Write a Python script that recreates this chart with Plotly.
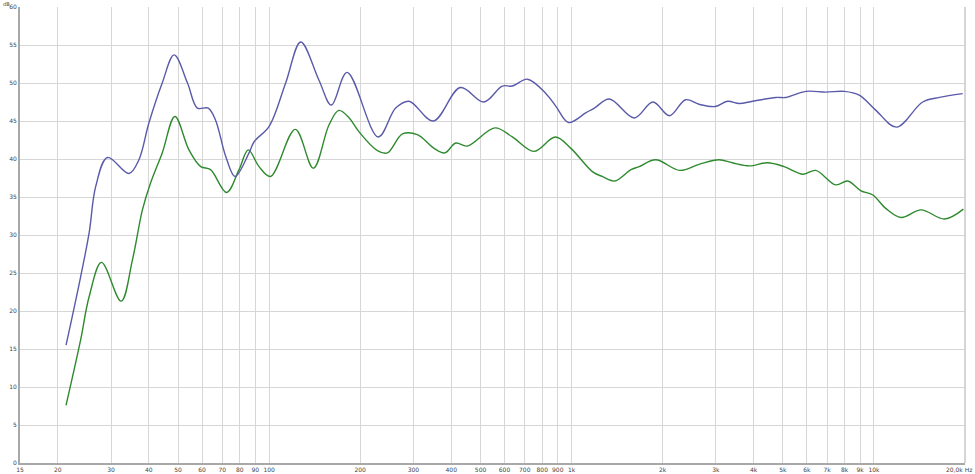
import math
import plotly.graph_objects as go

# Blue trace (upper)
blue_freq = [21.3, 23.8, 25.4, 26.7, 29.2, 34.4, 37.1, 40.0, 44.3, 48.5, 53.7, 57.9, 62.9, 66.5,
             71.9, 77.1, 85.8, 89.3, 100, 113.4, 127.2, 146, 160.6, 181, 229.5, 262, 290, 349, 429,
             513, 590, 637, 715, 823, 889, 977, 1117, 1190, 1334, 1612, 1858, 2108, 2383, 2640,
             2983, 3279, 3585, 3970, 4740, 5115, 5955, 6930, 7980, 8940, 10150, 11880, 14490,
             16470, 19650]
blue_db = [15.5, 24.5, 30.3, 36.4, 40.2, 38.1, 39.9, 44.7, 50.0, 53.7, 50.0, 46.7, 46.7, 45.1,
           40.3, 37.7, 40.8, 42.3, 44.3, 50.0, 55.4, 50.4, 47.1, 51.4, 42.9, 46.7, 47.6, 45.0, 49.4,
           47.5, 49.6, 49.6, 50.5, 48.6, 46.9, 44.8, 46.1, 46.7, 47.9, 45.4, 47.5, 45.7, 47.8, 47.2,
           46.9, 47.6, 47.3, 47.6, 48.1, 48.1, 48.9, 48.8, 48.9, 48.4, 46.4, 44.2, 47.5,
           48.1, 48.6]

# Green trace (lower)
green_freq = [21.3, 23.8, 25.4, 27.9, 32.4, 35.3, 38.1, 40.5, 44.3, 48.8, 54.3, 59.4, 64.0, 72.3,
              79.5, 85.3, 92.6, 101, 122, 140, 157.8, 170, 184, 198, 228, 246, 276, 309, 351, 381,
              414, 452, 558, 637, 751, 884, 995, 1175, 1263, 1387, 1572, 1674, 1898, 2279, 2640,
              3075, 3400, 3870, 4440, 5040, 5830, 6420, 7470, 8190, 9060, 9890, 10940, 12290,
              14320, 17110, 19760]
green_db = [7.6, 16.2, 21.9, 26.4, 21.3, 26.7, 33.3, 36.8, 40.8, 45.6, 41.2, 39.0, 38.6, 35.6,
            38.6, 41.2, 39.0, 37.7, 43.9, 38.8, 44.5, 46.4, 45.4, 43.6, 41.1, 40.8, 43.3, 43.2, 41.4,
            40.8, 42.1, 41.7, 44.1, 42.9, 41.0, 42.9, 41.4, 38.3, 37.7, 37.1, 38.6, 39.0, 39.9, 38.5,
            39.3, 39.9, 39.5, 39.1, 39.5, 39.0, 38.0, 38.5, 36.6, 37.1, 35.8, 35.3, 33.5, 32.3,
            33.3, 32.1, 33.4]

x_tickvals = [15, 20, 30, 40, 50, 60, 70, 80, 90, 100, 200, 300, 400, 500, 600, 700, 800, 900,
              1000, 2000, 3000, 4000, 5000, 6000, 7000, 8000, 9000, 10000, 20000]
x_ticktext = ["15", "20", "30", "40", "50", "60", "70", "80", "90", "100", "200", "300", "400",
              "500", "600", "700", "800", "900", "1k", "2k", "3k", "4k", "5k", "6k", "7k", "8k",
              "9k", "10k", ""]
last_label = "20,0k Hz"
y_tickvals = list(range(0, 61, 5))

fig = go.Figure()
fig.add_trace(go.Scatter(x=green_freq, y=green_db, mode="lines",
                         line=dict(color="#2f8a2f", width=1.4, shape="spline", smoothing=1.0)))
fig.add_trace(go.Scatter(x=blue_freq, y=blue_db, mode="lines",
                         line=dict(color="#5a5aaa", width=1.4, shape="spline", smoothing=1.0)))

fig.update_layout(
    width=975, height=474,
    margin=dict(l=20, r=10, t=7, b=11, autoexpand=False),
    paper_bgcolor="white", plot_bgcolor="white",
    showlegend=False,
    font=dict(family="DejaVu Sans", size=6, color="#444444"),
    xaxis=dict(type="log", range=[math.log10(15), math.log10(20000.5)], automargin=False,
               tickvals=x_tickvals, ticktext=x_ticktext, ticks="",
               showgrid=True, gridcolor="#d6d6d6", gridwidth=1,
               showline=True, linecolor="#a8a8a8", linewidth=2,
               zeroline=False, tickfont=dict(size=6, color="#444444")),
    yaxis=dict(range=[0, 60], tickvals=y_tickvals, ticks="", automargin=False,
               showgrid=True, gridcolor="#d6d6d6", gridwidth=1,
               showline=True, linecolor="#a8a8a8", linewidth=2,
               zeroline=False, tickfont=dict(size=6, color="#444444")),
)
fig.add_shape(type="line", xref="paper", yref="paper", x0=1, x1=1, y0=0, y1=1,
              line=dict(color="#c8c8c8", width=1.5))
fig.add_annotation(text=last_label, xref="paper", yref="paper", x=1, y=0, xanchor="right",
                   yanchor="top", xshift=9, yshift=-1, showarrow=False,
                   font=dict(size=6, color="#444444"))
fig.add_annotation(text="dB", xref="paper", yref="paper", x=0, y=1, xanchor="right",
                   yanchor="bottom", xshift=-9, yshift=-1, showarrow=False, borderpad=0,
                   font=dict(size=5, color="#444444"))

fig.write_html("out.html", config={"displayModeBar": False},
               post_script="document.body.style.margin='0';")
